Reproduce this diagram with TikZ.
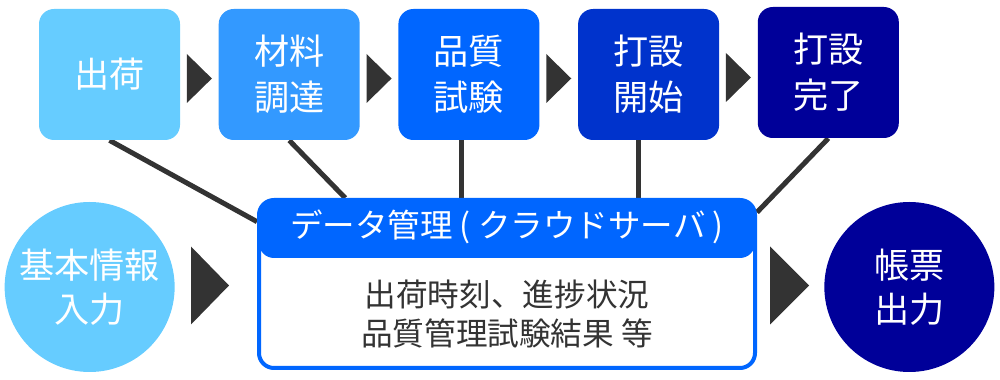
\documentclass[tikz,border=0pt]{standalone}
\usepackage{fontspec}
\setmainfont{Noto Sans CJK JP}
\usetikzlibrary{positioning, calc, backgrounds}
\definecolor{celeste}{HTML}{66CCFF}
\definecolor{azulclaro}{HTML}{3399FF}
\definecolor{azulmedio}{HTML}{0066FF}
\definecolor{azulfuerte}{HTML}{0033CC}
\definecolor{azulmarino}{HTML}{000099}
\definecolor{grisoscuro}{HTML}{333333}
\colorlet{colGris}{grisoscuro}
\colorlet{colDatos}{azulmedio}
\tikzset{
  cajaPaso/.style={
    rounded corners=0.3cm, minimum width=2.82cm, minimum height=2.62cm,
    align=center, text=white, font=\fontsize{20}{26}\selectfont
  },
  circuloBase/.style={
    circle, minimum size=3.4cm, inner sep=0pt,
    align=center, text=white, font=\fontsize{20}{25}\selectfont
  },
  cajaDatos/.style={
    draw=colDatos, line width=0.08cm, rounded corners=0.3cm, fill=white,
    minimum width=9.92cm, minimum height=3.36cm,
    path picture={\fill[colDatos] (path picture bounding box.north west)
      rectangle ([yshift=-1.16cm]path picture bounding box.north east);}
  },
  textoTitulo/.style={text=white, font=\fontsize{18.5}{22}\selectfont},
  textoCuerpo/.style={text=colGris, align=center, font=\fontsize{18}{21.8}\selectfont},
  linea/.style={line width=0.1cm, colGris},
  flechaTri/.style={fill=colGris},
}

\begin{document}
\begin{tikzpicture}[node distance=0.76cm]
    \useasboundingbox (0,0) rectangle (20,-7.6);
    % pasos
    \node[cajaPaso, fill=celeste] (b1) at (2.19,-1.49) {出荷};
    \node[cajaPaso, fill=azulclaro, right=of b1] (b2) {材料\\調達};
    \node[cajaPaso, fill=azulmedio, right=of b2] (b3) {品質\\試験};
    \node[cajaPaso, fill=azulfuerte, right=of b3] (b4) {打設\\開始};
    \node[cajaPaso, fill=azulmarino, right=of b4, yshift=0.04cm] (b5) {打設\\完了};

    % datos
    \node[cajaDatos] (dm) at (10.14,-5.68) {};
    \node[textoTitulo] (dmTitulo) at ([yshift=-0.58cm]dm.north) {データ管理 ( クラウドサーバ )};
    \node[textoCuerpo] (dmTexto) at ([yshift=-2.32cm]dm.north) {出荷時刻、進捗状況\\品質管理試験結果 等};
    \node[circuloBase, fill=celeste, left=1.64cm of dm, yshift=-0.06cm] (cIzq) {基本情報\\入力};
    \node[circuloBase, fill=azulmarino, right=1.34cm of dm, yshift=-0.06cm] (cDer) {帳票\\出力};

    \begin{scope}[on background layer]
      \draw[linea] (b1.south) -- (dm.166);
      \draw[linea] (b2.south) -- (dm.152);
      \draw[linea] ([xshift=-0.14cm]b3.south) -- ([xshift=-0.14cm]b3.south |- dm.north);
      \draw[linea] ([xshift=-0.2cm]b4.south) -- ([xshift=-0.2cm]b4.south |- dm.north);
      \draw[linea] (b5.south) -- (dm.16);
    \end{scope}

    \foreach \a/\b in {b1/b2, b2/b3, b3/b4, b4/b5}
      \fill[flechaTri] ($(\a.east)!0.5!(\b.west)$) ++(-0.25,0.41) -- ++(0.5,-0.49) -- ++(-0.5,-0.49) -- cycle;
    \fill[flechaTri] ($(cIzq.east)!0.5!(dm.west)$) ++(-0.5,0.78) -- ++(0.76,-0.78) -- ++(-0.76,-0.78) -- cycle;
    \fill[flechaTri] ($(dm.east)!0.5!(cDer.west)$) ++(-0.41,0.78) -- ++(0.78,-0.78) -- ++(-0.78,-0.78) -- cycle;
  \end{tikzpicture}
\end{document}
